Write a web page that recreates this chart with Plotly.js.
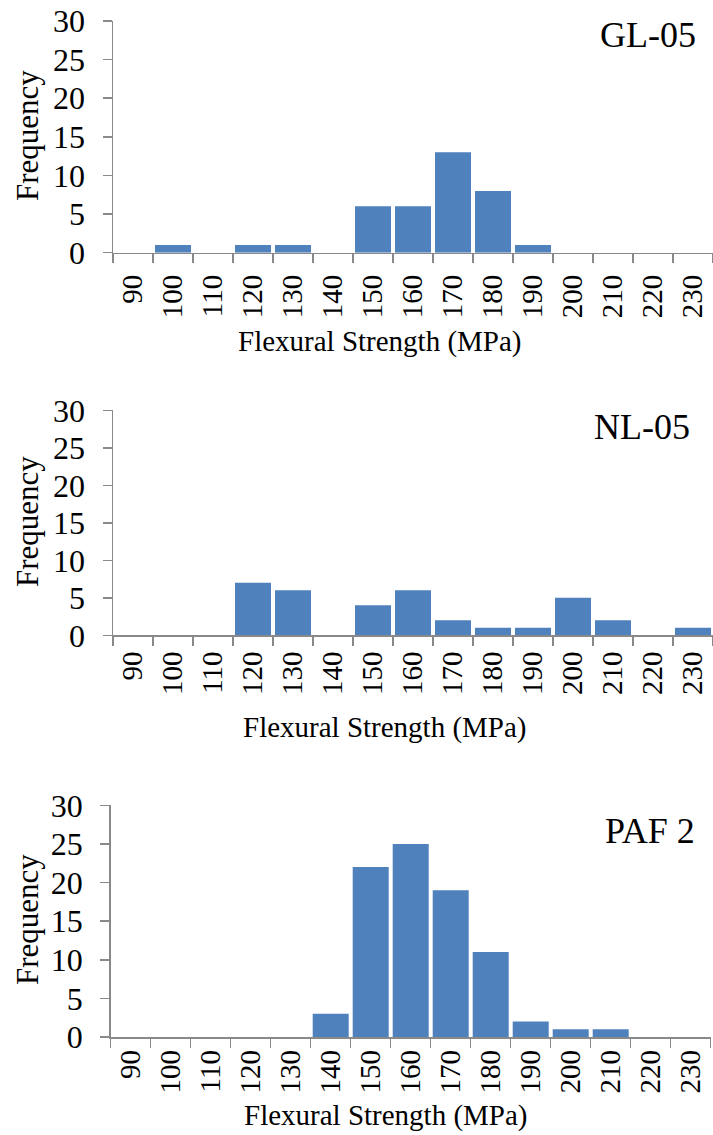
<!DOCTYPE html>
<html>
<head>
<meta charset="utf-8">
<script src="https://cdn.plot.ly/plotly-3.0.1.min.js"></script>
<style>html,body{margin:0;padding:0;background:#fff;font-family:"Liberation Serif",serif;}#chart{width:713px;height:1135px;}</style>
</head>
<body>
<div id="chart"></div>
<script>
const categories = ["90","100","110","120","130","140","150","160","170","180","190","200","210","220","230"];
const gl05 = [0,1,0,1,1,0,6,6,13,8,1,0,0,0,0];
const nl05 = [0,0,0,7,6,0,4,6,2,1,1,5,2,0,1];
const paf2 = [0,0,0,0,0,3,22,25,19,11,2,1,1,0,0];
const panelNames = ["GL-05","NL-05","PAF 2"];
const xTitle = "Flexural Strength (MPa)";
const yTitle = "Frequency";
const yTicks = [0,5,10,15,20,25,30];

const FONT = '"Liberation Serif", serif';
const BAR = "#4F81BD";
const AXIS = "#898989";

function bar(y, xa, ya){
  return {type:"bar", x:categories, y:y, xaxis:xa, yaxis:ya,
    marker:{color:BAR, line:{width:0}}, hoverinfo:"skip", showlegend:false};
}
const data = [bar(gl05,"x","y"), bar(nl05,"x2","y2"), bar(paf2,"x3","y3")];

function xax(dom, anchor, standoff){
  return {domain:dom, anchor:anchor, type:"category", categoryorder:"array", categoryarray:categories,
    tickson:"boundaries", ticks:"outside", ticklen:9, tickwidth:1.5, tickcolor:AXIS,
    showline:true, linecolor:AXIS, linewidth:1.5, showgrid:false, zeroline:false,
    tickangle:-90, ticklabelstandoff:standoff,
    tickfont:{family:FONT, size:29, color:"#000"}, fixedrange:true};
}
function yax(dom, anchor){
  return {domain:dom, anchor:anchor, range:[0,30], tickvals:yTicks, ticktext:yTicks.map(String),
    ticks:"outside", ticklen:9, tickwidth:1.5, tickcolor:AXIS,
    showline:true, linecolor:AXIS, linewidth:1.5, showgrid:false, zeroline:false,
    ticklabelstandoff:11,
    tickfont:{family:FONT, size:32, color:"#000"}, fixedrange:true};
}
const H = 1135, W = 713;
function py(pix){ return (H - pix)/H; }
function px(pix){ return pix/W; }

const layout = {
  width:W, height:H, margin:{l:0,r:0,t:0,b:0}, paper_bgcolor:"#fff", plot_bgcolor:"#fff",
  bargap:0.1, showlegend:false, font:{family:FONT, color:"#000"},
  xaxis: xax([px(113),1], "y", 9),
  yaxis: yax([py(252.7),py(21)], "x"),
  xaxis2: xax([px(113),1], "y2", 3),
  yaxis2: yax([py(635.3),py(410.3)], "x2"),
  xaxis3: xax([px(110.7),px(710.7)], "y3", 0),
  yaxis3: yax([py(1037),py(805.3)], "x3"),
  annotations: []
};
const titlePos = [[698,35],[692,427],[697,831]];
const xTitlePos = [[380,342],[385,728],[386,1115]];
const yTitlePos = [[27,136],[27,522],[27,920]];
for (let i=0;i<3;i++){
  layout.annotations.push({xref:"paper",yref:"paper",x:px(titlePos[i][0]),y:py(titlePos[i][1]),
    xanchor:"right",yanchor:"middle",text:panelNames[i],showarrow:false,
    font:{family:FONT,size:36,color:"#000"}});
  layout.annotations.push({xref:"paper",yref:"paper",x:px(xTitlePos[i][0]),y:py(xTitlePos[i][1]),
    xanchor:"center",yanchor:"middle",text:xTitle,showarrow:false,
    font:{family:FONT,size:29,color:"#000"}});
  layout.annotations.push({xref:"paper",yref:"paper",x:px(yTitlePos[i][0]),y:py(yTitlePos[i][1]),
    xanchor:"center",yanchor:"middle",text:yTitle,showarrow:false,textangle:-90,
    font:{family:FONT,size:31,color:"#000"}});
}
function draw(){ Plotly.newPlot("chart", data, layout, {displayModeBar:false, staticPlot:true}); }
if (document.fonts && document.fonts.ready) { document.fonts.ready.then(draw); } else { draw(); }
</script>
</body>
</html>
